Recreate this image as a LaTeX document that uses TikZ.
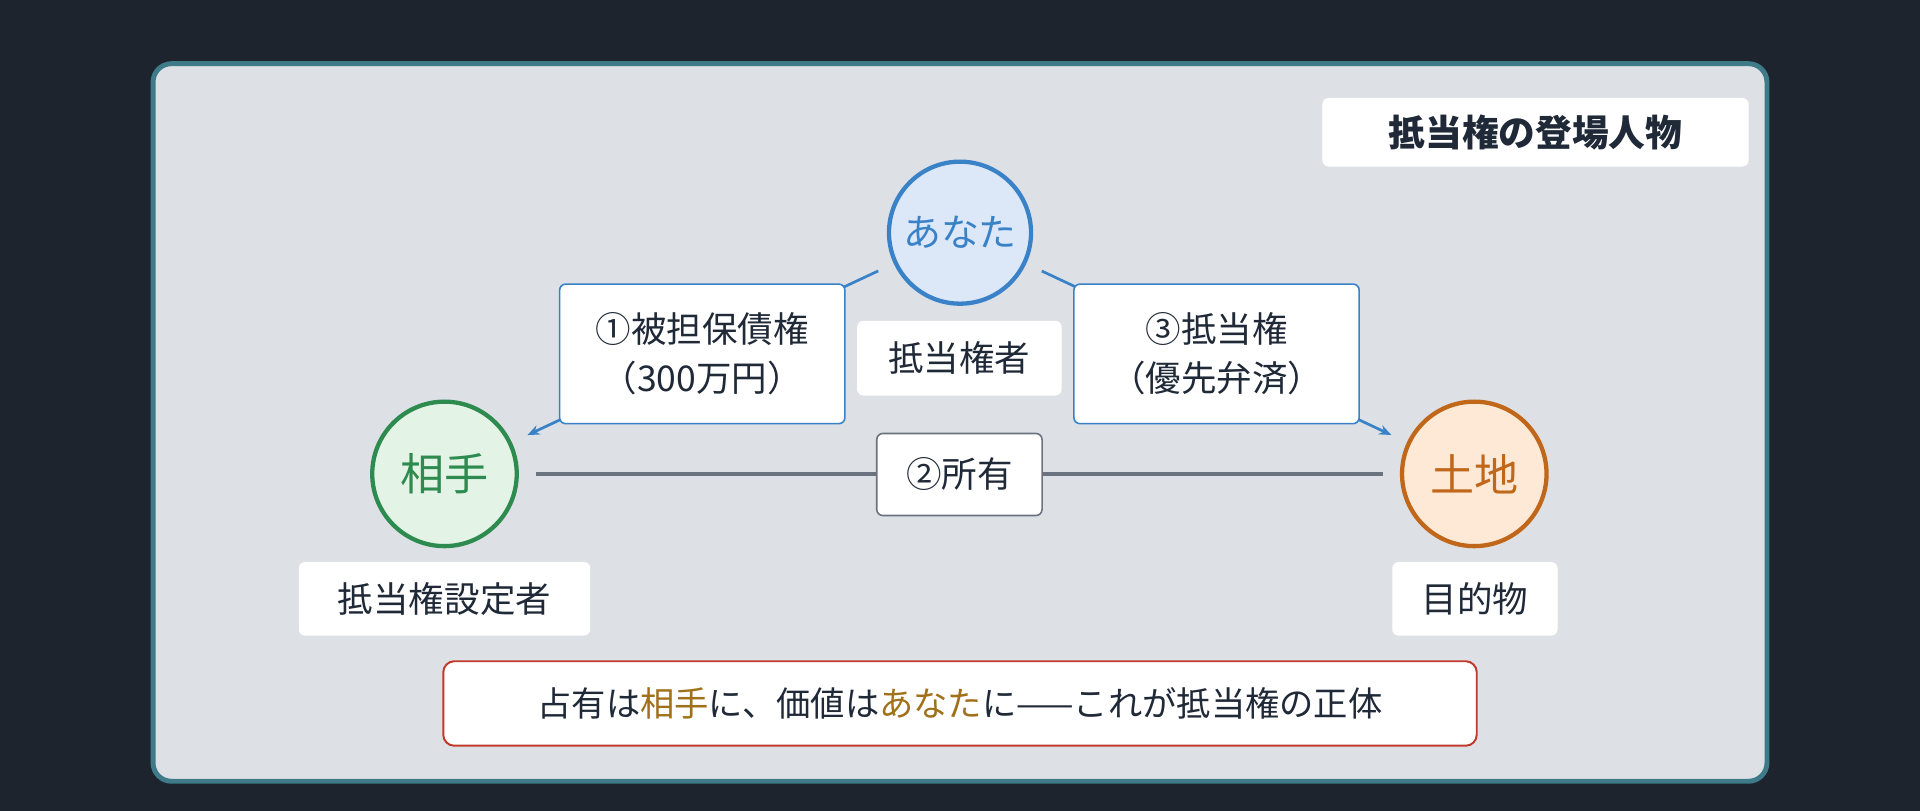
\documentclass[tikz,border=0pt]{standalone}
\usepackage{fontspec}
\setmainfont{Noto Sans CJK JP}
\usetikzlibrary{arrows.meta}
\definecolor{bgdark}{HTML}{1E242E}
\definecolor{panel}{HTML}{DDE0E5}
\definecolor{panelb}{HTML}{3E7A88}
\definecolor{txt}{HTML}{1F2937}
\definecolor{blue1}{HTML}{3A82C8}
\definecolor{blue2}{HTML}{DCE8F7}
\definecolor{green1}{HTML}{2E8B4F}
\definecolor{green2}{HTML}{E3F3E6}
\definecolor{org1}{HTML}{C0671A}
\definecolor{org2}{HTML}{FDE9D6}
\definecolor{gray1}{HTML}{6B7280}
\definecolor{red1}{HTML}{C0392B}
\definecolor{gold}{HTML}{A0701A}
\begin{document}
\begin{tikzpicture}[x=1pt,y=-1pt,
  person/.style={circle,minimum size=118pt,line width=3.5pt,font=\fontsize{36}{40}\selectfont},
  lab/.style={fill=white,rounded corners=5pt,text=txt,font=\fontsize{29}{34}\selectfont,inner sep=0pt},
  rel/.style={fill=white,draw=blue1,line width=1.3pt,rounded corners=5pt,text=txt,font=\fontsize{29}{40}\selectfont,inner sep=0pt,align=center},
  conn/.style={blue1,line width=2.2pt,shorten <=14pt,shorten >=14pt}]
\fill[bgdark] (0,0) rectangle (1568,662);
\filldraw[fill=panel,draw=panelb,line width=4pt,rounded corners=15pt] (125,52) rectangle (1443,638);
\node[lab,minimum width=348pt,minimum height=56pt,font=\fontsize{30}{34}\selectfont\bfseries] (title) at (1254,108) {抵当権の登場人物};
\node[person,fill=blue2,draw=blue1,text=blue1,minimum size=116pt,font=\fontsize{31}{34}\selectfont] (anata) at (784,190) {あなた};
\node[person,fill=green2,draw=green1,text=green1] (aite) at (363,387) {相手};
\node[person,fill=org2,draw=org1,text=org1] (tochi) at (1204,387) {土地};
\draw[conn,-{Stealth[length=10pt,width=8pt]}] (anata) -- (aite);
\draw[conn,-{Stealth[length=10pt,width=8pt]}] (anata) -- (tochi);
\draw[gray1,line width=3pt] (aite.east) ++(14,0) coordinate (g1) -- ([xshift=-14pt]tochi.west) coordinate (g2);
\node[rel,minimum width=233pt,minimum height=114pt] (r1) at (573.5,289) {①被担保債権\\（300万円）};
\node[rel,minimum width=233pt,minimum height=114pt] (r3) at (993.5,289) {③抵当権\\（優先弁済）};
\node[rel,draw=gray1,minimum width=135pt,minimum height=67pt] (r2) at (783.5,387.5) {②所有};
\node[lab,minimum width=167pt,minimum height=61pt] (l1) at (783.5,292.5) {抵当権者};
\node[lab,minimum width=238pt,minimum height=60pt] (l2) at (363,489) {抵当権設定者};
\node[lab,minimum width=135pt,minimum height=60pt] (l3) at (1204.5,489) {目的物};
\node[fill=white,draw=red1,line width=1.6pt,rounded corners=9pt,minimum width=844pt,minimum height=69pt,text=txt,font=\fontsize{28}{32}\selectfont,inner sep=0pt] (note) at (784,574.5) {占有は\textcolor{gold}{相手}に、価値は\textcolor{gold}{あなた}に——これが抵当権の正体};
\end{tikzpicture}
\end{document}
